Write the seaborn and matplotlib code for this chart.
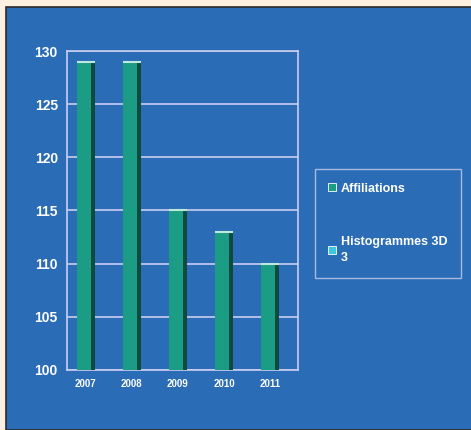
import matplotlib
matplotlib.use("Agg")
import matplotlib.pyplot as plt
from matplotlib.patches import Patch, Rectangle
import seaborn as sns
import pandas as pd

# Chart data
years = ["2007", "2008", "2009", "2010", "2011"]
affiliations = [129, 129, 115, 113, 110]
legend_labels = ["Affiliations", "Histogrammes 3D\n3"]
y_ticks = [100, 105, 110, 115, 120, 125, 130]

sns.set_style("white")
plt.rcParams["font.family"] = ["Liberation Sans", "DejaVu Sans"]
plt.rcParams["font.weight"] = "bold"

panel_blue = "#2b6cb6"
bar_green = "#1b9c84"
bar_side = "#0e4a3e"
light = "#c9cdf0"

df = pd.DataFrame({"Année": years, "Affiliations": affiliations})

fig = plt.figure(figsize=(4.71, 4.30), dpi=100, facecolor="#fdf0e0")
# blue panel with thin dark border, behind everything
fig.patches.append(Rectangle((6 / 471, 0), 1, 1 - 7 / 430, transform=fig.transFigure,
                             facecolor=panel_blue, edgecolor="#2a2a2a", linewidth=1.2,
                             zorder=-10))

ax = fig.add_axes([0.142, 0.14, 0.49, 0.741])
ax.set_facecolor(panel_blue)
sns.barplot(data=df, x="Année", y="Affiliations", color=bar_green, width=0.39,
            edgecolor="none", saturation=1, ax=ax, zorder=3)

# fake 3D: dark side strip on the right part of each bar, light top edge
for p in list(ax.patches):
    x0, w, h = p.get_x(), p.get_width(), p.get_height()
    side = w * 0.22
    ax.add_patch(Rectangle((x0 + w - side, p.get_y()), side, h,
                           facecolor=bar_side, edgecolor="none", zorder=4))
    ax.plot([x0, x0 + w], [p.get_y() + h, p.get_y() + h], color="#bfe8dc",
            linewidth=1.5, zorder=5, solid_capstyle="butt")

ax.set_xlim(-0.41, 4.6)
ax.set_ylim(100, 130)
ax.set_yticks(y_ticks)
ax.yaxis.grid(True, color=light, linewidth=1.2, zorder=0)
ax.set_axisbelow(True)
ax.set_xlabel("")
ax.set_ylabel("")
for s in ax.spines.values():
    s.set_color(light)
    s.set_linewidth(1.2)
ax.tick_params(axis="y", colors="white", labelsize=10, length=3, color=light)
ax.tick_params(axis="x", colors="white", labelsize=7, length=3, color=light)
for lbl in ax.get_yticklabels() + ax.get_xticklabels():
    lbl.set_fontweight("bold")

handles = [Patch(facecolor=bar_green, edgecolor="white", linewidth=0.6),
           Patch(facecolor="#3fc6e0", edgecolor="white", linewidth=0.6)]
leg = fig.legend(handles, legend_labels, loc="upper left", bbox_to_anchor=(0.668, 0.607),
                 frameon=True, fancybox=False, labelcolor="white",
                 handlelength=0.6, handleheight=0.6, handletextpad=0.4,
                 labelspacing=3.3, borderpad=1.1, borderaxespad=0,
                 prop={"weight": "bold", "size": 9})
for t in leg.get_texts():
    t.set_linespacing(1.5)
leg.get_frame().set_facecolor(panel_blue)
leg.get_frame().set_edgecolor(light)
leg.get_frame().set_linewidth(1.0)

fig.savefig("out.png", dpi=100, facecolor=fig.get_facecolor())
